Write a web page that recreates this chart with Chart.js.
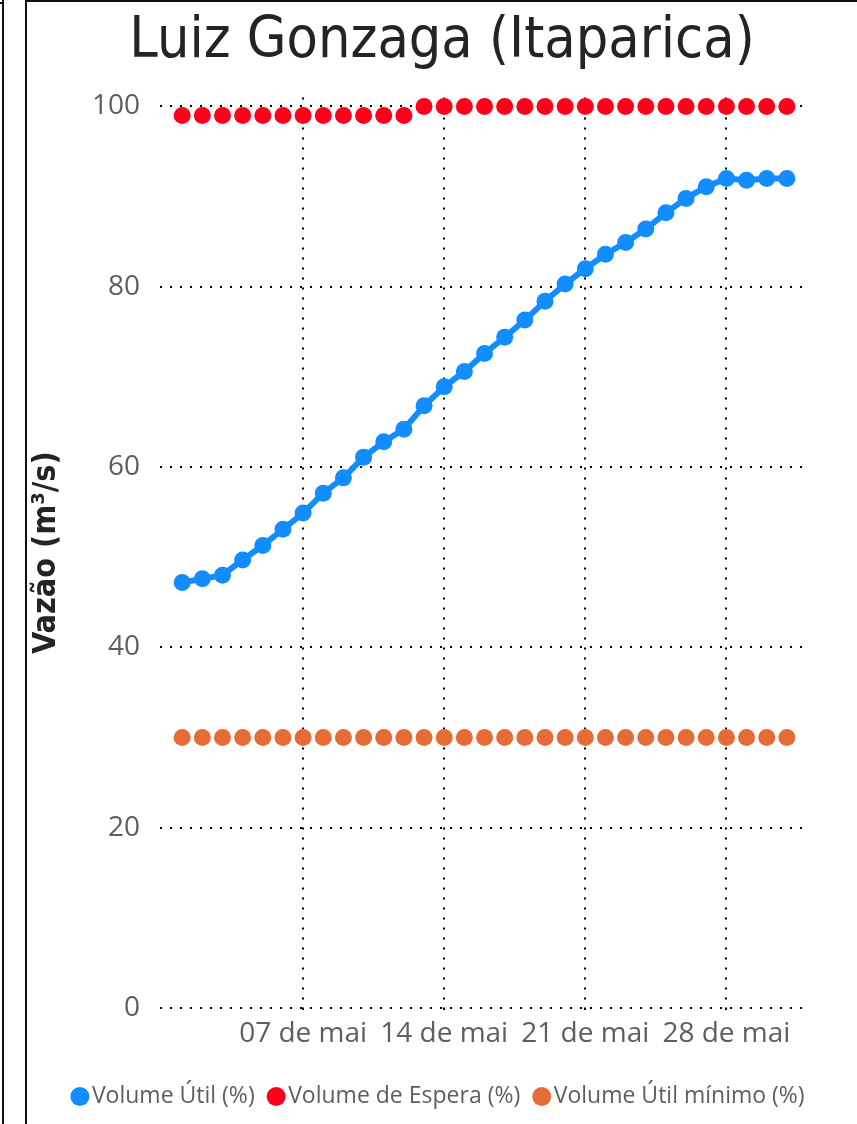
<!DOCTYPE html>
<html>
<head>
<meta charset="utf-8">
<script src="https://cdn.jsdelivr.net/npm/chart.js@4/dist/chart.umd.min.js"></script>
<style>
  html, body { margin: 0; padding: 0; background: #fff; }
  body { width: 857px; height: 1124px; position: relative; overflow: hidden; }
  .edge { position: absolute; left: 2px; top: 0; width: 2px; height: 1124px; background: #111; }
  .edge-top { position: absolute; left: 0; top: 2px; width: 4px; height: 2px; background: #111; }
  .panel {
    position: absolute; left: 25px; top: 0; width: 832px; height: 1124px;
    border-left: 2px solid #111; border-top: 2px solid #111; box-sizing: border-box;
  }
  .panel canvas { display: block; }
</style>
</head>
<body>
<div class="edge"></div>
<div class="edge-top"></div>
<div class="panel"><canvas id="chart" width="830" height="1122"></canvas></div>
<script>
// Luiz Gonzaga (Itaparica) — daily reservoir levels, May
const days = [1,2,3,4,5,6,7,8,9,10,11,12,13,14,15,16,17,18,19,20,21,22,23,24,25,26,27,28,29,30,31];

const volumeUtil = [47.2, 47.6, 48.0, 49.7, 51.3, 53.1, 54.9, 57.1, 58.8, 61.1,
                    62.8, 64.2, 66.8, 68.9, 70.6, 72.6, 74.4, 76.3, 78.4, 80.3,
                    82.0, 83.6, 84.9, 86.4, 88.2, 89.8, 91.1, 92.0, 91.8, 92.0, 92.0];

const volumeEspera = [99, 99, 99, 99, 99, 99, 99, 99, 99, 99, 99, 99,
                      100, 100, 100, 100, 100, 100, 100, 100, 100, 100,
                      100, 100, 100, 100, 100, 100, 100, 100, 100];

const volumeMinimo = [30, 30, 30, 30, 30, 30, 30, 30, 30, 30, 30, 30, 30, 30, 30, 30,
                      30, 30, 30, 30, 30, 30, 30, 30, 30, 30, 30, 30, 30, 30, 30];

const xTicks = [7, 14, 21, 28];
const yTicks = [0, 20, 40, 60, 80, 100];

const BLUE = '#118DFF';
const RED = '#FF001A';
const ORANGE = '#E66C37';
const GRID = '#000';
const DOTS = [2, 8];
const UI_FONT = "'Open Sans', 'Noto Sans', sans-serif";
const TITLE_FONT = "'DejaVu Sans Condensed', 'DejaVu Sans', sans-serif";

const pts = vals => days.map((d, i) => ({ x: d, y: vals[i] }));

function dottedGrid() {
  return {
    color: GRID,
    lineWidth: 2,
    tickBorderDash: DOTS,
    tickColor: GRID,
    tickWidth: 2,
  };
}

new Chart(document.getElementById('chart').getContext('2d'), {
  type: 'line',
  data: {
    datasets: [
      {
        label: 'Volume Útil (%)',
        data: pts(volumeUtil),
        borderColor: BLUE,
        backgroundColor: BLUE,
        borderWidth: 6,
        pointRadius: 8.5,
        pointBorderWidth: 0,
        pointHoverRadius: 8.5,
        tension: 0,
        order: 1,
      },
      {
        label: 'Volume de Espera (%)',
        data: pts(volumeEspera),
        borderColor: RED,
        backgroundColor: RED,
        showLine: false,
        pointRadius: 8.5,
        pointBorderWidth: 0,
        order: 2,
      },
      {
        label: 'Volume Útil mínimo (%)',
        data: pts(volumeMinimo),
        borderColor: ORANGE,
        backgroundColor: ORANGE,
        showLine: false,
        pointRadius: 8.5,
        pointBorderWidth: 0,
        order: 3,
      },
    ]
  },
  options: {
    responsive: false,
    animation: false,
    layout: { padding: { left: 0, right: 0, top: 0, bottom: 6 } },
    plugins: {
      title: {
        display: true,
        text: 'Luiz Gonzaga (Itaparica)',
        color: '#252423',
        font: { family: TITLE_FONT, size: 57, weight: 'normal' },
        padding: { top: 6, bottom: 21 },
      },
      legend: {
        position: 'bottom',
        labels: {
          // tiny box so the circle sits right next to its label
          usePointStyle: true,
          pointStyle: 'circle',
          boxHeight: 13.4,
          boxWidth: 1,
          padding: 21,
          color: '#605E5C',
          font: { family: UI_FONT, size: 23 },
        }
      },
      tooltip: { enabled: false },
    },
    scales: {
      x: {
        type: 'linear',
        min: -0.1,
        max: 31.9,
        afterBuildTicks: axis => { axis.ticks = xTicks.map(v => ({ value: v })); },
        afterFit: axis => { axis.height = 56; },
        grid: { ...dottedGrid(), drawTicks: true, tickLength: 9 },
        border: { display: false, dash: DOTS },
        ticks: {
          color: '#605E5C',
          padding: 0,
          maxRotation: 0,
          font: { family: UI_FONT, size: 28 },
          callback: v => String(v).padStart(2, '0') + ' de mai',
        },
      },
      y: {
        min: 0,
        max: 101,
        afterBuildTicks: axis => { axis.ticks = yTicks.map(v => ({ value: v })); },
        afterFit: axis => { axis.width = 133; },
        grid: { ...dottedGrid(), drawTicks: false },
        border: { display: false, dash: DOTS },
        title: {
          display: true,
          text: 'Vazão (m³/s)',
          color: '#252423',
          font: { family: TITLE_FONT, size: 32, weight: 'bold' },
          padding: { top: 0, bottom: 0 },
        },
        ticks: {
          color: '#605E5C',
          padding: 20,
          font: { family: UI_FONT, size: 28 },
        },
      },
      // empty right-hand axis: keeps the plot clear of the panel's right edge
      yRight: {
        position: 'right',
        display: true,
        grid: { display: false },
        border: { display: false },
        ticks: { display: false },
        afterFit: axis => { axis.width = 52; },
      },
    },
  },
});
</script>
</body>
</html>
